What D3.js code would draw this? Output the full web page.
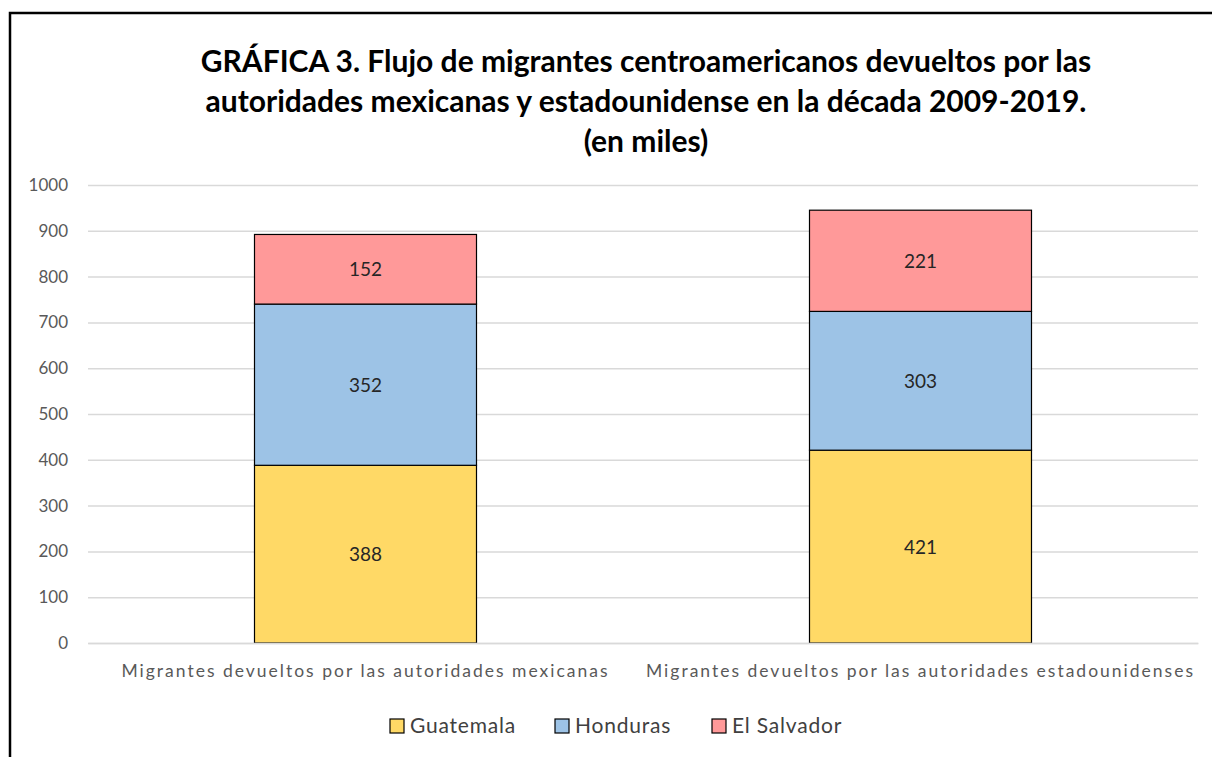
<html>
<head>
<meta charset="utf-8">
<script src="https://d3js.org/d3.v7.min.js"></script>
<style>
  body { margin: 0; background: #fff; }
  text { font-family: Lato, "Open Sans", sans-serif; }
</style>
</head>
<body>
<svg width="1212" height="757"></svg>
<script>
var categories = ["Migrantes devueltos por las autoridades mexicanas",
                  "Migrantes devueltos por las autoridades estadounidenses"];
var series = ["Guatemala", "Honduras", "El Salvador"];
var guatemala = [388, 421];
var honduras = [352, 303];
var elSalvador = [152, 221];
var yTicks = [0, 100, 200, 300, 400, 500, 600, 700, 800, 900, 1000];
var titleLines = ["GRÁFICA 3. Flujo de migrantes centroamericanos devueltos por las",
                  "autoridades mexicanas y estadounidense en la década 2009-2019.",
                  "(en miles)"];

var colors = ["#FFD966", "#9DC3E6", "#FF9999"];

var svg = d3.select("svg");

// chart border
svg.append("rect").attr("x", 10).attr("y", 13).attr("width", 1220).attr("height", 760)
  .attr("fill", "#fff").attr("stroke", "#000").attr("stroke-width", 2.5);

var rows = categories.map(function(c, i) {
  return { cat: c, "Guatemala": guatemala[i], "Honduras": honduras[i], "El Salvador": elSalvador[i] };
});
var stacked = d3.stack().keys(series)(rows);

var x = d3.scaleBand().domain(categories).range([88, 1198]).padding(0);
var y = d3.scaleLinear().domain([0, 1000]).range([643, 185]);
var color = d3.scaleOrdinal().domain(series).range(colors);

// title
svg.append("g").selectAll("text").data(titleLines).enter().append("text")
  .attr("x", 646).attr("y", function(d, i) { return 72 + i * 40; })
  .attr("text-anchor", "middle").attr("font-size", 30).attr("font-weight", "bold")
  .attr("fill", "#000").text(function(d) { return d; });

// gridlines + y axis
var yAxis = d3.axisLeft(y).tickValues(yTicks).tickFormat(d3.format("d"))
  .tickSize(-(1198 - 88)).tickPadding(20);
var gy = svg.append("g").attr("transform", "translate(88,0)").call(yAxis);
gy.select(".domain").remove();
gy.selectAll(".tick line").attr("stroke", "#d9d9d9").attr("stroke-width", 1.5);
gy.selectAll(".tick text").attr("font-size", 17).attr("fill", "#595959");

// bars
var barW = x.bandwidth() * 0.4;
var layers = svg.append("g").selectAll("g").data(stacked).enter().append("g")
  .attr("fill", function(d) { return color(d.key); });
layers.selectAll("rect").data(function(d) { return d; }).enter().append("rect")
  .attr("x", function(d) { return x(d.data.cat) + (x.bandwidth() - barW) / 2; })
  .attr("y", function(d) { return y(d[1]); })
  .attr("width", barW)
  .attr("height", function(d) { return y(d[0]) - y(d[1]); })
  .attr("stroke", "#000").attr("stroke-width", 1.2);

// value labels
layers.selectAll("text").data(function(d) { return d; }).enter().append("text")
  .attr("x", function(d) { return x(d.data.cat) + x.bandwidth() / 2; })
  .attr("y", function(d) { return (y(d[0]) + y(d[1])) / 2 + 7; })
  .attr("text-anchor", "middle").attr("font-size", 19).attr("fill", "#262626")
  .text(function(d) { return d[1] - d[0]; });

// category labels
var xAxis = d3.axisBottom(x).tickSize(0).tickPadding(22);
var gx = svg.append("g").attr("transform", "translate(0,643)").call(xAxis);
gx.select(".domain").attr("stroke", "#d9d9d9").attr("stroke-width", 1.5);
gx.selectAll(".tick text").attr("font-size", 17.5).attr("fill", "#595959")
  .attr("letter-spacing", 2);

// legend
var legendX = [390, 555, 712];
var lg = svg.append("g").selectAll("g").data(series).enter().append("g")
  .attr("transform", function(d, i) { return "translate(" + legendX[i] + ",719)"; });
lg.append("rect").attr("width", 14).attr("height", 14)
  .attr("fill", function(d) { return color(d); }).attr("stroke", "#000").attr("stroke-width", 1.2);
lg.append("text").attr("x", 20).attr("y", 14).attr("font-size", 21).attr("fill", "#404040")
  .attr("letter-spacing", 0.8)
  .text(function(d) { return d; });
</script>
</body>
</html>
